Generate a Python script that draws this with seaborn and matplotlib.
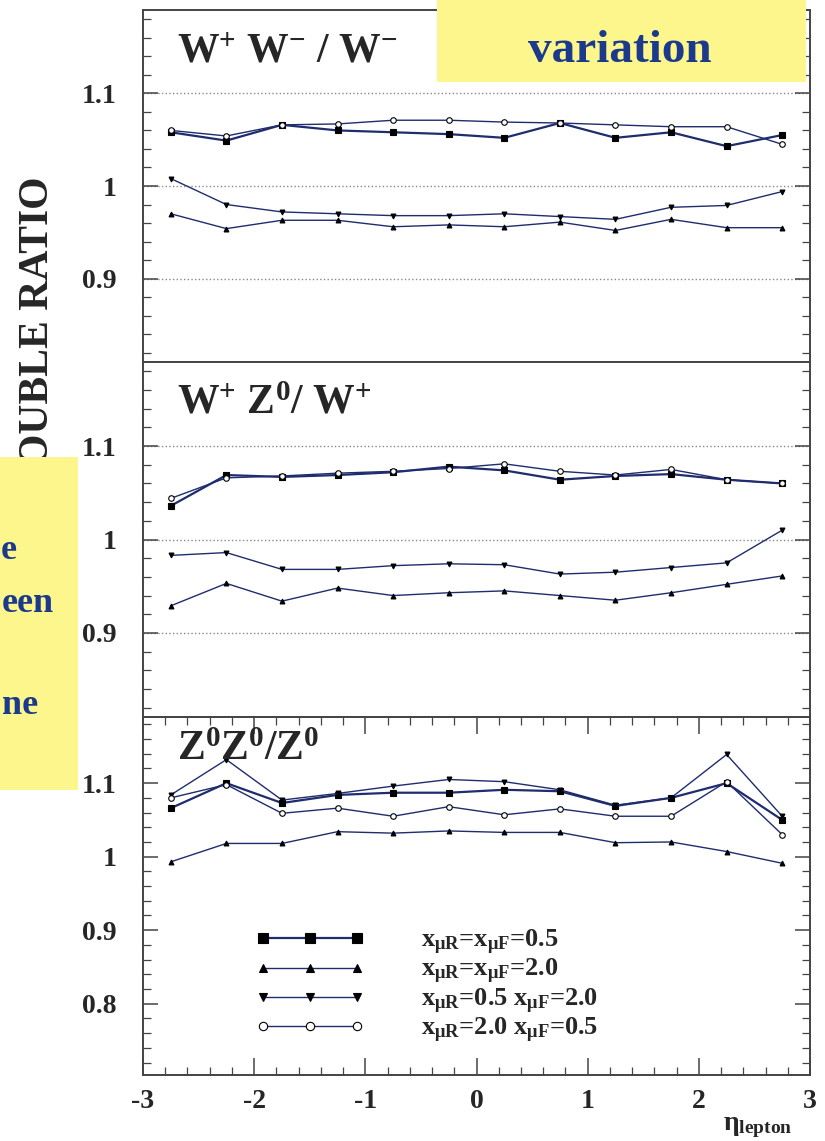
import matplotlib
matplotlib.use("Agg")
import matplotlib.pyplot as plt
import matplotlib.ticker as mticker
from matplotlib.patches import Rectangle
import seaborn as sns

# pseudorapidity bins (bin centres)
eta = [-2.75, -2.25, -1.75, -1.25, -0.75, -0.25, 0.25, 0.75, 1.25, 1.75, 2.25, 2.75]

# W+W- / W-
p1_sq = [1.058, 1.049, 1.066, 1.060, 1.058, 1.056, 1.052, 1.068, 1.052, 1.058, 1.043, 1.055]
p1_up = [0.970, 0.954, 0.963, 0.963, 0.956, 0.958, 0.956, 0.961, 0.952, 0.964, 0.955, 0.955]
p1_down = [1.008, 0.980, 0.972, 0.970, 0.968, 0.968, 0.970, 0.967, 0.964, 0.977, 0.979, 0.994]
p1_circ = [1.060, 1.054, 1.066, 1.067, 1.071, 1.071, 1.069, 1.068, 1.066, 1.064, 1.064, 1.045]

# W+Z0 / W+
p2_sq = [1.036, 1.069, 1.067, 1.069, 1.072, 1.078, 1.074, 1.064, 1.068, 1.070, 1.064, 1.060]
p2_up = [0.929, 0.953, 0.934, 0.948, 0.940, 0.943, 0.945, 0.940, 0.935, 0.943, 0.952, 0.961]
p2_down = [0.983, 0.986, 0.968, 0.968, 0.972, 0.974, 0.973, 0.963, 0.965, 0.970, 0.975, 1.010]
p2_circ = [1.044, 1.066, 1.068, 1.071, 1.073, 1.076, 1.081, 1.073, 1.069, 1.075, 1.064, 1.060]

# Z0Z0 / Z0
p3_sq = [1.066, 1.100, 1.073, 1.084, 1.087, 1.087, 1.091, 1.089, 1.069, 1.080, 1.100, 1.050]
p3_up = [0.993, 1.018, 1.018, 1.034, 1.032, 1.035, 1.033, 1.033, 1.019, 1.020, 1.007, 0.991]
p3_down = [1.084, 1.132, 1.077, 1.086, 1.096, 1.105, 1.102, 1.091, 1.070, 1.080, 1.139, 1.055]
p3_circ = [1.080, 1.098, 1.059, 1.066, 1.055, 1.068, 1.057, 1.065, 1.055, 1.055, 1.102, 1.030]

series_keys = ["sq", "up", "down", "circ"]
legend_labels = [
    r"x$_{\mu R}$=x$_{\mu F}$=0.5",
    r"x$_{\mu R}$=x$_{\mu F}$=2.0",
    r"x$_{\mu R}$=0.5 x$_{\mu F}$=2.0",
    r"x$_{\mu R}$=2.0 x$_{\mu F}$=0.5",
]
panel_titles = [
    r"W$^{+}$ W$^{-}$ / W$^{-}$",
    r"W$^{+}$ Z$^{0}$/ W$^{+}$",
    r"Z$^{0}$Z$^{0}$/Z$^{0}$",
]

LINE = "#1f2c6e"
NAVY = "#1c3a8c"
YELLOW = "#fcf68c"
styles = {
    "sq": dict(marker="s", ms=4.5, mfc="black", lw=1.6),
    "up": dict(marker="^", ms=3.5, mfc="black", lw=1.0),
    "down": dict(marker="v", ms=3.5, mfc="black", lw=1.0),
    "circ": dict(marker="o", ms=4.0, mfc="white", lw=1.0),
}

sns.set_theme(style="ticks")
plt.rcParams.update({
    "font.family": ["Liberation Serif", "DejaVu Serif"],
    "font.weight": "bold",
    "mathtext.fontset": "custom",
    "mathtext.rm": "Liberation Serif:bold",
    "mathtext.it": "Liberation Serif:bold",
    "mathtext.bf": "Liberation Serif:bold",
    "mathtext.sf": "Liberation Serif:bold",
})

W, H = 825, 1141
fig = plt.figure(figsize=(W / 100, H / 100), dpi=100)
fig.patch.set_facecolor("white")

left, right = 143 / W, 810 / W
edges = [10, 362, 717, 1075]  # pixel rows of the frame boundaries


def fy(py):
    return 1 - py / H


axes = []
for i in range(3):
    bottom = fy(edges[i + 1])
    height = fy(edges[i]) - bottom
    axes.append(fig.add_axes([left, bottom, right - left, height]))

panels = [
    (p1_sq, p1_up, p1_down, p1_circ),
    (p2_sq, p2_up, p2_down, p2_circ),
    (p3_sq, p3_up, p3_down, p3_circ),
]
ylims = [(0.81, 1.19), (0.81, 1.19), (0.703, 1.19)]
title_y = [0.852, 0.856, 0.88]

handles = {}
for i, ax in enumerate(axes):
    for key, vals in zip(series_keys, panels[i]):
        st = styles[key]
        sns.lineplot(x=eta, y=vals, ax=ax, color=LINE, lw=st["lw"],
                     marker=st["marker"], markersize=st["ms"],
                     markerfacecolor=st["mfc"], markeredgecolor="black",
                     markeredgewidth=0.8, legend=False)
        handles[key] = ax.lines[-1]
    ax.set_xlim(-3, 3)
    ax.set_ylim(*ylims[i])
    ax.yaxis.set_major_locator(mticker.MultipleLocator(0.1))
    ax.yaxis.set_minor_locator(mticker.MultipleLocator(0.02))
    ax.yaxis.set_major_formatter(mticker.FuncFormatter(lambda v, _: f"{round(v, 2):g}"))
    ax.tick_params(axis="y", which="both", direction="in", left=True, right=True,
                   labelsize=20, pad=19, color="#444444")
    ax.tick_params(axis="y", which="major", length=11, width=1.1)
    ax.tick_params(axis="y", which="minor", length=6, width=0.9)
    for sp in ax.spines.values():
        sp.set_color("#444444")
        sp.set_linewidth(1.4)
    ax.text(0.051, title_y[i], panel_titles[i], transform=ax.transAxes,
            fontsize=30, fontweight="bold", va="baseline", ha="left")
    ax.set_xlabel("")
    ax.set_ylabel("")
    if i < 2:
        ax.grid(axis="y", which="major", ls=":", color="#888888", lw=1.0)
        ax.tick_params(axis="x", which="both", bottom=False, top=False, labelbottom=False)

ax3 = axes[2]
ax3.xaxis.set_major_locator(mticker.MultipleLocator(1))
ax3.xaxis.set_minor_locator(mticker.MultipleLocator(0.2))
ax3.xaxis.set_major_formatter(mticker.FuncFormatter(lambda v, _: f"{int(round(v))}"))
ax3.tick_params(axis="x", which="both", direction="in", top=True, bottom=True,
                labelsize=20, pad=10, color="#444444")
ax3.tick_params(axis="x", which="major", length=12, width=1.1)
ax3.tick_params(axis="x", which="minor", length=6, width=0.9)

ax3.legend([handles[k] for k in series_keys], legend_labels,
           loc="upper left", bbox_to_anchor=(0.168, 0.41), frameon=False,
           fontsize=19, numpoints=3, handlelength=4.17, handletextpad=2.1,
           labelspacing=0.0, borderpad=0, borderaxespad=0, markerscale=1.5)

fig.text(723 / W, fy(1130), r"$\eta_{\mathrm{lepton}}$", fontsize=20,
         ha="left", va="baseline")

# y-axis title, its first letter hidden behind the yellow box
fig.text(38 / W, fy(336), "DOUBLE RATIO", rotation=90, fontsize=30,
         fontweight="bold", ha="center", va="center", zorder=2)

# yellow annotation boxes from the slide
fig.patches.append(Rectangle((437 / W, fy(82)), (806 - 437) / W, 82 / H + 0.01,
                             transform=fig.transFigure, facecolor=YELLOW,
                             edgecolor="none", zorder=5))
fig.patches.append(Rectangle((0, fy(790)), 78 / W, (790 - 457) / H,
                             transform=fig.transFigure, facecolor=YELLOW,
                             edgecolor="none", zorder=5))
fig.text(620 / W, fy(62), "variation", fontsize=34, fontweight="bold",
         color=NAVY, ha="center", va="baseline", zorder=6)
fig.text(1 / W, fy(550), "e", fontsize=26, fontweight="bold", color=NAVY,
         ha="left", va="center", zorder=6)
fig.text(2 / W, fy(603), "een", fontsize=26, fontweight="bold", color=NAVY,
         ha="left", va="center", zorder=6)
fig.text(2 / W, fy(705), "ne", fontsize=26, fontweight="bold", color=NAVY,
         ha="left", va="center", zorder=6)

fig.savefig("out.png", dpi=100)
